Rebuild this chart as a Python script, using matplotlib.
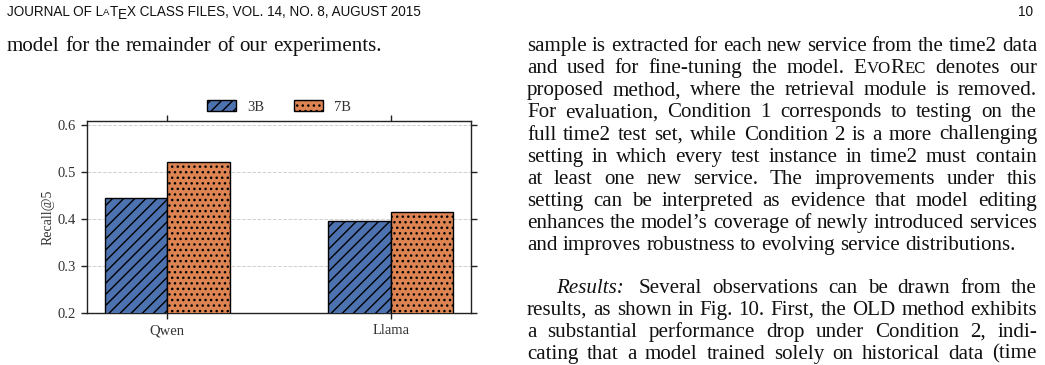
import matplotlib
matplotlib.use("Agg")
import matplotlib.pyplot as plt
from matplotlib.transforms import IdentityTransform
from matplotlib.font_manager import FontProperties
from matplotlib.ticker import FormatStrFormatter
import numpy as np

# ---------------- data ----------------
models = ["Qwen", "Llama"]
sizes = ["3B", "7B"]
recall_3b = [0.444, 0.396]
recall_7b = [0.521, 0.414]
yticks = [0.2, 0.3, 0.4, 0.5, 0.6]
ylabel = "Recall@5"

header_before = "JOURNAL OF L"
header_after = "X CLASS FILES, VOL. 14, NO. 8, AUGUST 2015"
page_number = "10"
left_lines = ["model for the remainder of our experiments."]
para1_lines = [
    "sample is extracted for each new service from the time2 data",
    "and used for fine-tuning the model. EvoRec denotes our",
    "proposed method, where the retrieval module is removed.",
    "For evaluation, Condition 1 corresponds to testing on the",
    "full time2 test set, while Condition 2 is a more challenging",
    "setting in which every test instance in time2 must contain",
    "at least one new service. The improvements under this",
    "setting can be interpreted as evidence that model editing",
    "enhances the model\u2019s coverage of newly introduced services",
    "and improves robustness to evolving service distributions.",
]
para2_lines = [
    "Results: Several observations can be drawn from the",
    "results, as shown in Fig. 10. First, the OLD method exhibits",
    "a substantial performance drop under Condition 2, indi-",
    "cating that a model trained solely on historical data (time",
]

# ---------------- figure ----------------
W, H = 1045, 365
fig = plt.figure(figsize=(W / 100, H / 100), dpi=100)
fig.patch.set_facecolor("white")
renderer = fig.canvas.get_renderer()
IT = IdentityTransform()

SERIF = "Liberation Serif"
SANS = "Liberation Sans"
INK = "#111111"


def prop(size, family=SERIF, style="normal"):
    return FontProperties(family=family, size=size, style=style)


def measure(s, p):
    w, h, d = renderer.get_text_width_height_descent(s, p, ismath=False)
    return w


def smallcaps_runs(word, size):
    runs = []
    for ch in word:
        sz = size if ch.isupper() else size * 0.8
        if runs and runs[-1][1] == sz:
            runs[-1][0] += ch.upper()
        else:
            runs.append([ch.upper(), sz])
    return [(t, prop(s), 0.0) for t, s in runs]


def word_runs(word, size):
    if word == "EvoRec":
        return smallcaps_runs(word, size)
    if word == "Results:":
        return [(word, prop(size, style="italic"), 0.0)]
    return [(word, prop(size), 0.0)]


def draw_line(text, x0, x1, baseline, size, justify=True, color=INK):
    words = text.split(" ")
    runs = [word_runs(w, size) for w in words]
    widths = [sum(measure(t, p) for t, p, _ in r) for r in runs]
    space = measure("x x", prop(size)) - 2 * measure("x", prop(size))
    extra = [space if w == "Results:" else 0.0 for w in words]
    total = sum(widths) + sum(extra)
    if justify and len(words) > 1:
        gap = (x1 - x0 - total) / (len(words) - 1)
    else:
        gap = space
    x = x0
    y = H - baseline
    for r, wd, ex in zip(runs, widths, extra):
        xx = x
        for t, p, dy in r:
            fig.text(xx, y + dy, t, fontproperties=p, transform=IT,
                     ha="left", va="baseline", color=color)
            xx += measure(t, p)
        x += wd + ex + gap


# body font size fitted to the reference line width
base = 13.0
wref = measure(left_lines[0], prop(base))
body_size = base * (378 - 7) / wref


# header with the LaTeX logo
def draw_header(hsize, draw=True):
    hb = H - 16.5
    em = hsize * 100 / 72
    p = prop(hsize, SANS)
    pa = prop(hsize * 0.70, SANS)
    pieces = [
        (header_before, p, 0.0, 0.01),
        ("A", pa, 0.12, 0.01),
        ("T", p, 0.0, 0.01),
        ("E", p, -0.21, 0.01),
        (header_after, p, 0.0, 0.0),
    ]
    x = 7
    for t, pp, dy, kern in pieces:
        if draw:
            fig.text(x, hb + dy * em, t, fontproperties=pp, transform=IT,
                     ha="left", va="baseline", color=INK)
        x += measure(t, pp) + kern * em
    return x - 7


hs0 = 10.0
hsize = hs0 * (423 - 7) / draw_header(hs0, draw=False)
draw_header(hsize)
fig.text(1033, H - 16.5, page_number, fontproperties=prop(hsize, SANS),
         transform=IT, ha="right", va="baseline", color=INK)

# body text
pitch = 22.05
draw_line(left_lines[0], 7, 378, 51.3, body_size, justify=False)
for i, line in enumerate(para1_lines):
    last = i == len(para1_lines) - 1
    draw_line(line, 527, 1037, 51.3 + pitch * i, body_size, justify=not last)
for i, line in enumerate(para2_lines):
    x0 = 556 if i == 0 else 527
    draw_line(line, x0, 1037, 292.8 + pitch * i, body_size, justify=True)

# ---------------- chart ----------------
L, R, T, B = 87, 471, 121, 313
ax = fig.add_axes([L / W, 1 - B / H, (R - L) / W, (B - T) / H])
x = np.arange(len(models))
bw = 0.28
blue, orange = "#4C72B0", "#DD8452"
plt.rcParams["hatch.linewidth"] = 1.0
ax.bar(x - bw / 2, recall_3b, bw, color=blue, edgecolor="black", linewidth=1.0,
       hatch="///", label=sizes[0], zorder=3)
ax.bar(x + bw / 2, recall_7b, bw, color=orange, edgecolor="black", linewidth=1.0,
       hatch="...", label=sizes[1], zorder=3)
ax.set_xlim(-0.36, 1.36)
ax.set_ylim(0.2, 0.6085)
ax.set_xticks(x)
ax.set_xticklabels(models)
ax.set_yticks(yticks)
ax.yaxis.set_major_formatter(FormatStrFormatter("%.1f"))
ax.yaxis.grid(True, linestyle="--", color="#d0d0d0", linewidth=0.7)
ax.set_axisbelow(True)
for s in ax.spines.values():
    s.set_color("#222222")
    s.set_linewidth(1.0)
ax.tick_params(direction="out", top=True, right=True, length=4, width=1.0,
               colors="#222222", labelsize=10.5, labelcolor="#333333", pad=4)
for lab in ax.get_xticklabels() + ax.get_yticklabels():
    lab.set_fontfamily(SERIF)
ax.set_ylabel(ylabel, fontsize=10, family=SERIF, color="#333333", labelpad=2)
leg = ax.legend(loc="center", bbox_to_anchor=(0.5, 1.073), ncol=2, frameon=False,
                prop=FontProperties(family=SERIF, size=10.5), handlelength=2.0,
                handleheight=0.75, columnspacing=2.0, handletextpad=0.8)
for t in leg.get_texts():
    t.set_color("#333333")

fig.savefig("out.png", dpi=100)
